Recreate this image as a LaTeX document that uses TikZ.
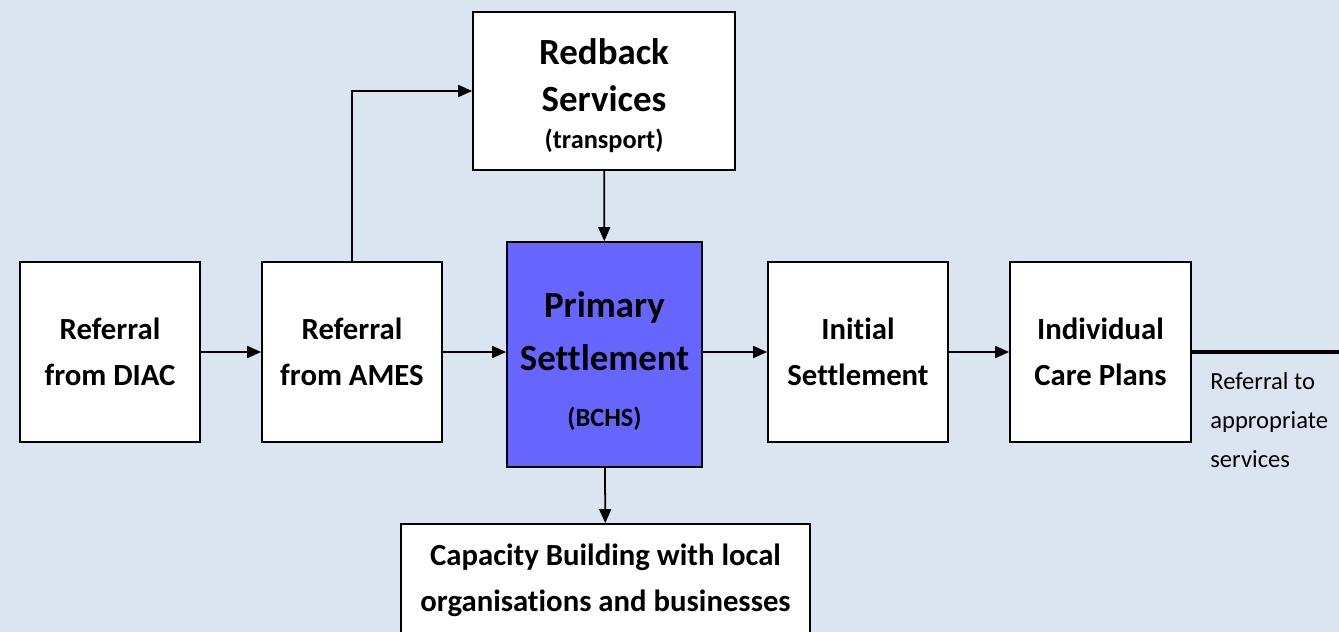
\documentclass[tikz,border=0pt]{standalone}
\usepackage{fontspec}
\setmainfont{Carlito}[Ligatures=NoCommon]
\usetikzlibrary{arrows.meta}
\tikzset{>={Triangle[length=2.8mm,width=2.4mm]}}
\definecolor{bgblue}{HTML}{DBE5F1}
\definecolor{primblue}{HTML}{6666FF}
\tikzset{
  stage/.style={draw=black, line width=1pt, fill=white, minimum width=3.6cm,
    minimum height=3.6cm, align=center, inner sep=0pt,
    font=\bfseries\fontsize{17.5}{26}\selectfont},
  link/.style={->, line width=1pt},
}

\begin{document}
\begin{tikzpicture}[x=0.02cm, y=-0.02cm]
        % background
        \fill[bgblue] (0, 0) rectangle (1339, 632);
        \useasboundingbox (0, 0) rectangle (1339, 632);
        \clip (0, 0) rectangle (1339, 632);
        % nodes
        \node[stage] (diac) at (110, 352) {Referral\\from DIAC};
        \node[stage] (ames) at (352, 352) {Referral\\from AMES};
        \node[stage, fill=primblue, minimum width=3.9cm, minimum height=4.5cm,
          font=\bfseries\fontsize{21}{30}\selectfont] (primary) at (604.5, 354.5)
          {\\[-8pt]Primary\\Settlement\\[2pt]{\fontsize{15}{18}\selectfont (BCHS)}};
        \node[stage, minimum width=3.6cm] (initial) at (858, 352) {Initial\\Settlement};
        \node[stage, minimum width=3.62cm] (care) at (1100.5, 352) {Individual\\Care Plans};
        \node[stage, minimum width=5.24cm, minimum height=3.16cm,
          font=\bfseries\fontsize{21}{27}\selectfont] (redback) at (604, 91)
          {\rule{0pt}{20pt}Redback\\Services\\[-6pt]{\fontsize{15}{18}\selectfont (transport)}};
        \node[stage, minimum width=8.18cm, minimum height=2.24cm] (capacity) at (605.5, 580)
          {Capacity Building with local\\organisations and businesses};
        \node[anchor=west, inner sep=0pt, align=left,
          font=\fontsize{14}{22}\selectfont] (referral) at (1210, 420)
          {Referral to\\appropriate\\services};
        \coordinate (edge) at (1339, 352);
        % lines
        \draw[link] (diac) -- (ames);
        \draw[link] (ames) -- (primary.west |- ames.east);
        \draw[link] (primary.east |- initial.west) -- (initial);
        \draw[link] (initial) -- (care);
        \draw[link] (ames.north) |- (redback.west);
        \draw[link] (redback) -- (primary);
        \draw[link] (primary) -- (capacity);
        \draw[line width=1.8pt] (care.east) -- (edge);
\end{tikzpicture}
\end{document}
